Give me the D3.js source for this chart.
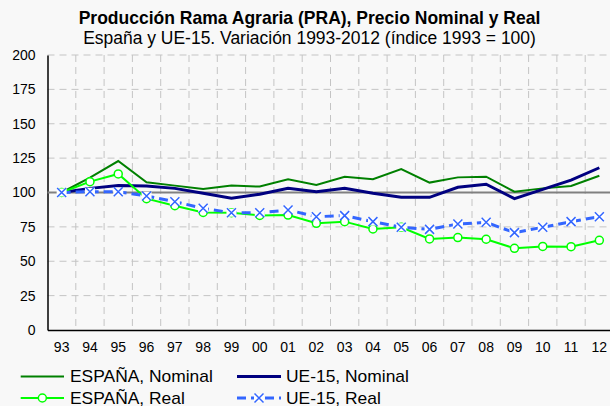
<!DOCTYPE html>
<html><head><meta charset="utf-8">
<script src="https://cdn.jsdelivr.net/npm/d3@7"></script>
<style>
body{margin:0;background:#f8f8f8}
svg{display:block}
text{font-family:"Liberation Sans",Arial,sans-serif;fill:#000}
</style>
</head><body>
<svg id="c" width="610" height="406"></svg>
<script>
const years = ["93","94","95","96","97","98","99","00","01","02","03","04","05","06","07","08","09","10","11","12"];
const espanaNominal = [100,110.8,122.9,107.4,105,102.5,105,104.3,109.6,105.5,111.5,109.6,117,107.2,111,111.5,100.6,103,104.7,112.2];
const ue15Nominal   = [100,103,105,104.7,103,99.4,95.8,98.7,103,100.6,103,99.4,96.5,96.5,103.8,106,95.5,102.3,109,118];
const espanaReal    = [100,107.9,113.5,95.5,90.4,85.5,85.3,83.3,83.6,77.6,78.8,73.5,74.7,66.2,67.2,66,59.4,60.8,60.6,65.2];
const ue15Real      = [100,100.6,100.6,97.5,93.3,88.5,85.3,85.3,87.3,82.4,83.2,78.8,74.7,73.2,77.1,78.3,70.8,74.7,78.8,82.4];
const yTicks = [0,25,50,75,100,125,150,175,200];
const titleText = "Producción Rama Agraria (PRA), Precio Nominal y Real";
const subtitleText = "España y UE-15. Variación 1993-2012 (índice 1993 = 100)";
const legendLabels = ["ESPAÑA, Nominal","UE-15, Nominal","ESPAÑA, Real","UE-15, Real"];

const svg = d3.select("#c");
const W = 610, H = 406;
const mLeft = 47.5, mTop = 55, mBottom = 330;
const x = d3.scaleBand().domain(years).range([mLeft, mLeft + 28.3*years.length]).padding(0);
const cx = d => x(d) + x.bandwidth()/2;
const y = d3.scaleLinear().domain([0,200]).range([mBottom, mTop]);

svg.append("rect").attr("width",W).attr("height",H).attr("fill","#f8f8f8");

svg.append("g").selectAll("line").data(yTicks.filter(t=>t>0)).join("line")
  .attr("x1",mLeft).attr("x2",W).attr("y1",d=>y(d)).attr("y2",d=>y(d))
  .attr("stroke","#c4c4c4").attr("stroke-width",1).attr("stroke-dasharray","7,5");
svg.append("g").selectAll("line").data(years.slice(1)).join("line")
  .attr("x1",d=>x(d)).attr("x2",d=>x(d)).attr("y1",mTop).attr("y2",mBottom)
  .attr("stroke","#c4c4c4").attr("stroke-width",1).attr("stroke-dasharray","7,5");

const yAxis = d3.axisLeft(y).tickValues(yTicks).tickSize(0).tickPadding(12);
const gy = svg.append("g").attr("transform",`translate(${mLeft},0)`).call(yAxis);
gy.select(".domain").attr("stroke","#000").attr("stroke-width",1.5);
gy.selectAll("text").attr("font-size",14).attr("font-family","Liberation Sans, Arial, sans-serif").attr("fill","#000");

const xAxis = d3.axisBottom(x).tickSize(0).tickPadding(12);
const gx = svg.append("g").attr("transform",`translate(0,${mBottom})`).call(xAxis);
gx.select(".domain").attr("stroke","#000").attr("stroke-width",1.5);
gx.selectAll("text").attr("font-size",14).attr("font-family","Liberation Sans, Arial, sans-serif").attr("fill","#000");

svg.append("line").attr("x1",mLeft).attr("x2",W).attr("y1",y(100)).attr("y2",y(100))
  .attr("stroke","#808080").attr("stroke-width",2);

const line = d3.line().x((d,i)=>cx(years[i])).y(d=>y(d));

svg.append("path").datum(espanaNominal).attr("d",line).attr("fill","none")
  .attr("stroke","#008000").attr("stroke-width",2);
svg.append("path").datum(ue15Nominal).attr("d",line).attr("fill","none")
  .attr("stroke","#000080").attr("stroke-width",3);
svg.append("path").datum(espanaReal).attr("d",line).attr("fill","none")
  .attr("stroke","#00ff00").attr("stroke-width",2);
svg.append("g").selectAll("circle").data(espanaReal).join("circle")
  .attr("cx",(d,i)=>cx(years[i])).attr("cy",d=>y(d)).attr("r",4)
  .attr("fill","#fff").attr("stroke","#00ff00").attr("stroke-width",1.5);
svg.append("path").datum(ue15Real).attr("d",line).attr("fill","none")
  .attr("stroke","#3366ff").attr("stroke-width",3).attr("stroke-dasharray","9,5");
const xm = svg.append("g").selectAll("g").data(ue15Real).join("g")
  .attr("transform",(d,i)=>`translate(${cx(years[i])},${y(d)})`);
xm.append("rect").attr("x",-5).attr("y",-4).attr("width",10).attr("height",8).attr("fill","#fff");
xm.append("path").attr("d","M-4.5,-4.5L4.5,4.5M-4.5,4.5L4.5,-4.5").attr("stroke","#3366ff").attr("stroke-width",1.5).attr("fill","none");

function fit(sel, target){
  const w = sel.node().getComputedTextLength();
  const fs = parseFloat(sel.attr("font-size"));
  sel.attr("font-size", fs*target/w);
}
const t1 = svg.append("text").attr("x",309.5).attr("y",24).attr("text-anchor","middle")
  .attr("font-weight","bold").attr("font-size",15).text(titleText);
fit(t1,462);
const t2 = svg.append("text").attr("x",309.5).attr("y",43.5).attr("text-anchor","middle")
  .attr("font-size",15).text(subtitleText);
fit(t2,453);

const leg = [
  {label:legendLabels[0], x1:20.7, x2:64, tx:70, yc:376.5, color:"#008000", w:2, dash:null, mk:null, tw:143},
  {label:legendLabels[1], x1:237, x2:281, tx:286, yc:376.5, color:"#000080", w:3, dash:null, mk:null, tw:122},
  {label:legendLabels[2], x1:20.7, x2:64, tx:70, yc:398, color:"#00ff00", w:2, dash:null, mk:"o", tw:null},
  {label:legendLabels[3], x1:237, x2:281, tx:286, yc:398, color:"#3366ff", w:3, dash:"9,5", mk:"x", tw:null}
];
const lg = svg.append("g").selectAll("g").data(leg).join("g");
lg.append("line").attr("x1",d=>d.x1).attr("x2",d=>d.x2).attr("y1",d=>d.yc).attr("y2",d=>d.yc)
  .attr("stroke",d=>d.color).attr("stroke-width",d=>d.w).attr("stroke-dasharray",d=>d.dash);
lg.filter(d=>d.mk==="o").append("circle").attr("cx",d=>(d.x1+d.x2)/2).attr("cy",d=>d.yc).attr("r",4)
  .attr("fill","#fff").attr("stroke",d=>d.color).attr("stroke-width",1.5);
lg.filter(d=>d.mk==="x").append("rect").attr("x",d=>(d.x1+d.x2)/2-5).attr("y",d=>d.yc-4).attr("width",10).attr("height",8).attr("fill","#fff");
lg.filter(d=>d.mk==="x").append("path")
  .attr("d",d=>{const m=(d.x1+d.x2)/2, c=d.yc; return `M${m-4.5},${c-4.5}L${m+4.5},${c+4.5}M${m-4.5},${c+4.5}L${m+4.5},${c-4.5}`;})
  .attr("stroke",d=>d.color).attr("stroke-width",1.5);
const lt = lg.append("text").attr("x",d=>d.tx).attr("y",d=>d.yc+5.5).attr("font-size",16).text(d=>d.label);
// size legend text to match first row widths
const w0 = lt.filter((d,i)=>i===0).node().getComputedTextLength();
const legFs = 16*143/w0;
lt.attr("font-size",legFs);
</script>
</body></html>
